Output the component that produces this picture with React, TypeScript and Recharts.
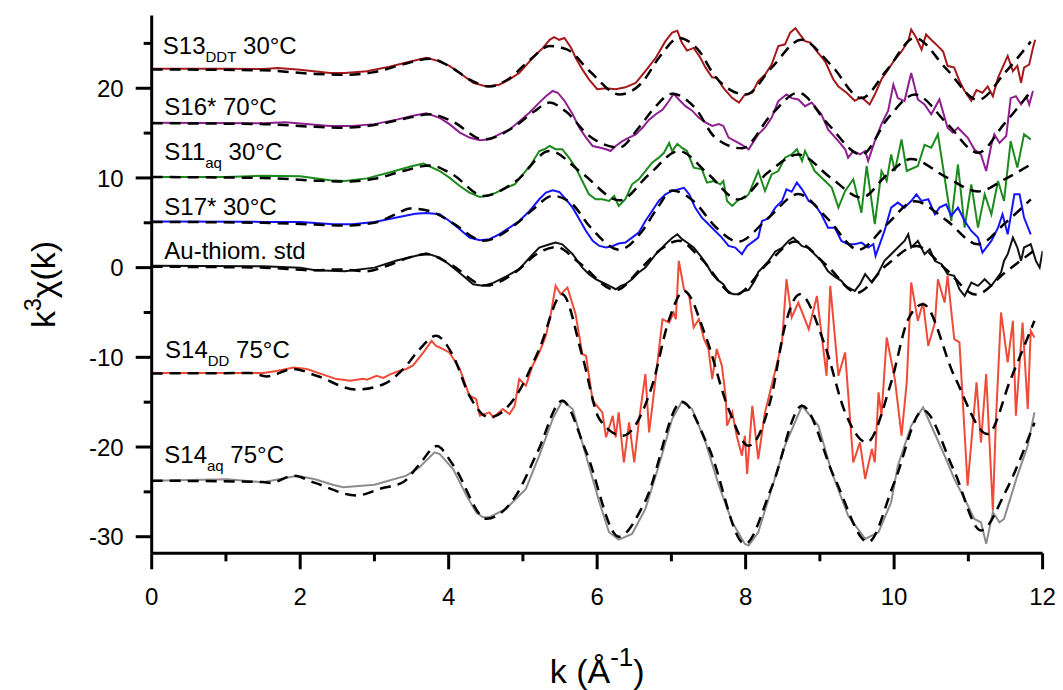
import { LineChart, Line, XAxis, YAxis, ReferenceDot, Label } from 'recharts'

const FONT = '"Liberation Sans", Arial, sans-serif'

// [k, k^3 chi(k)], each spectrum already offset
const s13Data = [
  [0, 22.17], [1.0, 22.17], [1.5, 22.15], [1.7, 22.25], [2.0, 22.05], [2.4, 21.7], [2.6, 21.7], [2.9, 21.9],
  [3.2, 22.4], [3.5, 23.0], [3.7, 23.4], [3.88, 23.0], [4.01, 22.5], [4.15, 21.7], [4.33, 20.6], [4.51, 20.2],
  [4.68, 20.4], [4.82, 21.0], [4.95, 21.7], [5.09, 23.0], [5.18, 23.8], [5.27, 24.5], [5.36, 25.4], [5.42, 25.7],
  [5.49, 25.4], [5.56, 25.6], [5.65, 24.5], [5.71, 23.4], [5.8, 22.1], [5.89, 21.0], [6.0, 19.9], [6.12, 20.0],
  [6.25, 19.9], [6.38, 20.1], [6.52, 20.6], [6.65, 21.9], [6.79, 23.4], [6.92, 25.25], [7.01, 26.2], [7.08, 26.4],
  [7.14, 25.1], [7.21, 24.2], [7.3, 24.5], [7.39, 23.4], [7.46, 22.3], [7.55, 21.2], [7.61, 21.2], [7.7, 20.05],
  [7.82, 18.9], [7.91, 18.4], [7.99, 19.3], [8.09, 19.5], [8.17, 20.8], [8.26, 21.5], [8.35, 22.65], [8.44, 24.7],
  [8.53, 24.9], [8.6, 26.2], [8.67, 26.7], [8.73, 26.0], [8.8, 25.25], [8.87, 25.1], [8.96, 24.1], [9.07, 23.0],
  [9.18, 21.0], [9.25, 20.2], [9.36, 19.5], [9.47, 18.6], [9.56, 19.0], [9.67, 18.2], [9.74, 19.3], [9.83, 21.0],
  [9.92, 22.1], [10.01, 23.2], [10.1, 24.1], [10.19, 25.25], [10.23, 26.55], [10.3, 25.6], [10.37, 24.3], [10.43, 26.0],
  [10.52, 25.25], [10.59, 24.7], [10.66, 24.1], [10.72, 22.5], [10.81, 22.3], [10.88, 20.8], [10.95, 19.7], [11.04, 18.6],
  [11.11, 19.8], [11.19, 19.5], [11.26, 20.2], [11.33, 19.1], [11.4, 21.2], [11.46, 22.3], [11.53, 23.6], [11.6, 21.9],
  [11.66, 22.5], [11.71, 20.6], [11.75, 22.3], [11.82, 22.65], [11.87, 24.5], [11.9, 25.4],
]
const s13Fit = [
  [0, 22.1], [1.5, 22.0], [2.2, 21.6], [2.6, 21.5], [3.0, 21.8], [3.4, 22.7], [3.75, 23.3], [4.0, 22.5],
  [4.3, 20.9], [4.55, 20.2], [4.8, 21.0], [5.1, 23.2], [5.36, 24.7], [5.6, 24.3], [5.9, 21.9], [6.3, 19.3],
  [6.6, 20.6], [6.85, 23.6], [7.1, 25.6], [7.35, 24.4], [7.6, 21.2], [8.0, 19.3], [8.35, 22.3], [8.75, 25.4],
  [9.15, 22.6], [9.56, 18.9], [9.9, 22.0], [10.28, 25.6], [10.7, 22.2], [11.13, 18.7], [11.5, 21.8], [11.84, 25.2],
]

const s16Data = [
  [0, 16.15], [1.5, 16.1], [1.8, 16.2], [2.4, 15.8], [2.7, 15.8], [3.0, 16.0], [3.3, 16.5], [3.55, 17.0],
  [3.7, 17.2], [3.88, 16.7], [4.01, 16.0], [4.15, 15.05], [4.28, 14.5], [4.42, 14.2], [4.55, 14.3], [4.68, 14.86],
  [4.82, 15.4], [4.95, 16.3], [5.09, 17.3], [5.22, 18.4], [5.31, 19.1], [5.4, 19.7], [5.47, 19.5], [5.56, 18.6],
  [5.67, 17.1], [5.76, 15.6], [5.85, 14.5], [5.94, 13.56], [6.03, 13.4], [6.12, 13.2], [6.18, 13.0], [6.25, 13.56],
  [6.34, 14.1], [6.43, 14.5], [6.52, 14.86], [6.61, 15.6], [6.7, 16.5], [6.79, 17.1], [6.88, 17.6], [6.97, 18.6],
  [7.03, 19.4], [7.1, 18.75], [7.19, 18.0], [7.28, 17.5], [7.37, 16.7], [7.46, 16.2], [7.55, 15.8], [7.64, 16.0],
  [7.7, 15.8], [7.77, 14.5], [7.86, 14.1], [7.95, 13.7], [8.04, 13.2], [8.17, 14.86], [8.26, 15.6], [8.35, 16.7],
  [8.44, 18.57], [8.55, 19.3], [8.62, 18.9], [8.71, 18.75], [8.8, 18.0], [8.89, 18.4], [9.02, 17.1], [9.11, 15.4],
  [9.25, 14.1], [9.34, 13.2], [9.38, 12.26], [9.45, 13.0], [9.54, 12.63], [9.61, 13.0], [9.65, 11.9], [9.74, 14.1],
  [9.83, 16.0], [9.92, 17.5], [9.99, 20.4], [10.05, 18.9], [10.14, 18.57], [10.23, 21.7], [10.32, 18.75], [10.41, 18.2],
  [10.5, 17.1], [10.61, 18.75], [10.72, 15.6], [10.79, 15.05], [10.86, 15.6], [10.99, 14.5], [11.08, 13.2], [11.17, 12.6],
  [11.24, 10.77], [11.31, 13.7], [11.35, 14.86], [11.42, 13.9], [11.51, 14.67], [11.57, 18.9], [11.64, 19.1], [11.71, 18.2],
  [11.78, 19.1], [11.82, 18.2], [11.87, 19.7],
]
const s16Fit = [
  [0, 16.1], [1.5, 16.0], [2.2, 15.7], [2.6, 15.6], [3.0, 15.9], [3.4, 16.6], [3.75, 17.1], [4.05, 16.3],
  [4.47, 14.3], [4.9, 15.8], [5.15, 17.4], [5.36, 18.4], [5.58, 17.4], [5.89, 14.7], [6.3, 13.4], [6.56, 15.6],
  [6.79, 18.0], [7.01, 19.4], [7.32, 17.8], [7.59, 14.5], [7.95, 13.3], [8.35, 17.1], [8.71, 19.5], [9.11, 16.0],
  [9.56, 12.6], [9.92, 16.7], [10.28, 19.3], [10.72, 16.0], [11.13, 12.8], [11.48, 16.0], [11.84, 19.6],
]

const s11Data = [
  [0, 10.1], [1.0, 10.1], [1.5, 10.25], [2.0, 10.2], [2.4, 9.75], [2.6, 9.65], [2.9, 9.95], [3.2, 10.6],
  [3.5, 11.3], [3.66, 11.6], [3.88, 10.77], [4.01, 10.03], [4.15, 9.1], [4.28, 8.36], [4.42, 7.88], [4.51, 8.0],
  [4.64, 8.36], [4.77, 8.92], [4.89, 9.29], [5.0, 10.4], [5.11, 11.5], [5.22, 13.0], [5.29, 13.2], [5.36, 13.56],
  [5.44, 13.2], [5.53, 13.2], [5.62, 12.26], [5.71, 11.15], [5.8, 9.66], [5.89, 8.18], [5.98, 7.62], [6.07, 7.62],
  [6.16, 7.43], [6.23, 8.0], [6.29, 6.88], [6.38, 7.62], [6.47, 9.29], [6.56, 9.85], [6.65, 10.77], [6.74, 11.7],
  [6.83, 12.26], [6.9, 12.8], [6.97, 13.9], [7.01, 13.0], [7.08, 13.8], [7.14, 13.37], [7.21, 13.0], [7.3, 11.15],
  [7.41, 10.96], [7.48, 9.48], [7.57, 9.66], [7.66, 9.29], [7.7, 9.66], [7.75, 7.43], [7.82, 6.88], [7.91, 7.62],
  [7.99, 7.8], [8.04, 8.18], [8.17, 10.77], [8.26, 8.55], [8.35, 10.4], [8.44, 10.77], [8.53, 12.26], [8.62, 12.63],
  [8.69, 13.2], [8.76, 11.9], [8.8, 13.0], [8.93, 10.77], [9.07, 9.66], [9.16, 8.92], [9.25, 6.69], [9.34, 8.55],
  [9.45, 9.85], [9.56, 6.13], [9.63, 11.33], [9.74, 4.84], [9.83, 10.77], [9.9, 9.66], [9.96, 12.63], [10.01, 10.77],
  [10.1, 14.3], [10.17, 10.77], [10.32, 11.33], [10.41, 13.7], [10.5, 13.37], [10.59, 14.86], [10.68, 10.03], [10.77, 5.2],
  [10.86, 11.5], [10.95, 4.46], [11.04, 9.29], [11.13, 4.46], [11.22, 8.18], [11.31, 5.95], [11.4, 9.66], [11.48, 7.43],
  [11.57, 14.1], [11.66, 11.15], [11.75, 14.86], [11.84, 14.3],
]
const s11Fit = [
  [0, 10.1], [1.5, 10.0], [2.2, 9.7], [2.6, 9.6], [3.0, 9.9], [3.4, 10.8], [3.75, 11.4], [4.05, 10.4],
  [4.47, 8.0], [4.9, 9.6], [5.36, 13.0], [5.8, 10.5], [6.3, 7.5], [6.7, 10.4], [7.1, 13.0], [7.5, 10.4],
  [7.9, 7.6], [8.3, 10.6], [8.71, 12.6], [9.15, 10.0], [9.56, 7.8], [9.9, 10.3], [10.23, 12.1], [10.7, 10.1],
  [11.13, 8.5], [11.5, 9.9], [11.84, 11.5],
]

const s17Data = [
  [0, 5.13], [1.5, 5.1], [2.0, 5.1], [2.45, 4.85], [2.7, 4.85], [3.0, 5.1], [3.3, 5.6], [3.55, 6.0],
  [3.7, 6.1], [3.88, 5.95], [4.01, 5.2], [4.15, 4.28], [4.28, 3.35], [4.42, 3.05], [4.55, 3.17], [4.68, 3.72],
  [4.82, 4.46], [4.95, 5.2], [5.09, 6.32], [5.22, 7.62], [5.31, 8.36], [5.4, 8.62], [5.49, 8.44], [5.58, 7.62],
  [5.67, 6.69], [5.76, 5.4], [5.85, 4.09], [5.94, 2.98], [6.03, 2.42], [6.12, 2.24], [6.21, 2.42], [6.29, 2.68],
  [6.38, 2.79], [6.47, 3.35], [6.56, 3.9], [6.65, 5.2], [6.74, 6.32], [6.83, 7.43], [6.92, 8.18], [7.01, 8.55],
  [7.1, 8.73], [7.17, 8.9], [7.24, 8.18], [7.32, 6.69], [7.41, 5.58], [7.5, 4.84], [7.59, 4.09], [7.68, 3.35],
  [7.77, 2.42], [7.86, 2.24], [7.95, 1.49], [8.02, 2.42], [8.1, 2.9], [8.17, 3.35], [8.22, 5.2], [8.31, 5.5],
  [8.4, 6.69], [8.49, 7.43], [8.55, 8.73], [8.62, 8.47], [8.69, 9.48], [8.76, 8.73], [8.85, 7.43], [8.93, 7.06],
  [9.02, 5.95], [9.11, 4.46], [9.2, 4.46], [9.29, 2.98], [9.38, 2.61], [9.47, 2.61], [9.56, 2.79], [9.65, 2.24],
  [9.72, 2.61], [9.75, 1.31], [9.87, 4.09], [9.96, 6.69], [10.05, 7.25], [10.14, 6.69], [10.23, 7.43], [10.3, 8.18],
  [10.37, 7.43], [10.46, 7.62], [10.55, 5.95], [10.61, 6.69], [10.7, 7.06], [10.77, 5.77], [10.86, 6.69], [10.95, 5.2],
  [11.04, 4.09], [11.13, 3.35], [11.19, 1.68], [11.31, 2.98], [11.4, 4.46], [11.46, 5.95], [11.53, 3.72], [11.62, 8.18],
  [11.69, 8.18], [11.75, 5.58], [11.84, 3.72],
]
const s17Fit = [
  [0, 5.1], [1.5, 5.0], [2.2, 4.8], [2.6, 4.7], [3.0, 5.0], [3.3, 6.0], [3.48, 6.6], [3.75, 6.3],
  [4.05, 5.0], [4.47, 3.0], [4.9, 4.8], [5.15, 6.6], [5.4, 8.0], [5.65, 7.2], [5.9, 4.6], [6.3, 2.0],
  [6.6, 4.0], [6.8, 6.5], [7.01, 8.6], [7.3, 7.4], [7.6, 4.5], [7.9, 2.9], [8.3, 5.5], [8.71, 8.2],
  [9.1, 5.5], [9.52, 2.0], [9.9, 4.8], [10.28, 7.4], [10.7, 5.3], [11.13, 2.6], [11.5, 5.0], [11.84, 7.6],
]

const auData = [
  [0, 0.2], [1.5, 0.15], [2.0, 0.0], [2.2, -0.3], [2.6, -0.4], [3.0, 0.0], [3.3, 0.8], [3.55, 1.3],
  [3.7, 1.6], [3.88, 1.12], [4.0, 0.4], [4.15, -0.6], [4.33, -1.85], [4.46, -2.03], [4.6, -1.7], [4.77, -1.0],
  [4.95, -0.18], [5.09, 1.12], [5.22, 2.24], [5.36, 2.6], [5.44, 2.8], [5.53, 2.6], [5.67, 1.5], [5.8, 0.0],
  [5.89, -0.73], [5.98, -1.29], [6.12, -1.85], [6.25, -2.41], [6.32, -2.03], [6.38, -1.85], [6.47, -1.29], [6.56, -0.55],
  [6.65, 0.0], [6.79, 1.5], [6.92, 2.6], [7.01, 3.3], [7.08, 3.72], [7.14, 3.2], [7.21, 2.8], [7.3, 2.24],
  [7.41, 1.12], [7.5, 0.0], [7.55, -0.73], [7.64, -1.48], [7.7, -1.85], [7.77, -2.78], [7.84, -2.96], [7.91, -2.96],
  [7.97, -2.6], [8.04, -2.5], [8.12, -1.5], [8.17, -0.5], [8.26, 0.3], [8.31, 0.75], [8.4, 1.8], [8.49, 2.2],
  [8.58, 3.0], [8.64, 3.35], [8.71, 2.8], [8.76, 2.4], [8.85, 2.2], [8.93, 1.5], [9.02, 0.75], [9.11, -0.4],
  [9.2, -1.0], [9.29, -1.47], [9.34, -2.03], [9.47, -2.6], [9.54, -1.85], [9.61, -0.73], [9.7, -1.66], [9.79, -0.55],
  [9.87, 0.75], [9.96, 1.5], [10.05, 2.24], [10.14, 2.98], [10.19, 3.72], [10.23, 2.24], [10.32, 2.98], [10.41, 1.5],
  [10.48, 2.05], [10.55, 0.75], [10.64, 0.38], [10.72, -0.73], [10.81, -0.92], [10.88, -2.41], [10.95, -3.15], [11.04, -1.66],
  [11.13, -2.03], [11.22, -1.29], [11.31, -2.03], [11.44, -0.55], [11.48, 0.75], [11.53, 1.5], [11.6, 3.35], [11.66, 2.24],
  [11.71, 0.75], [11.75, 2.24], [11.84, 2.61], [11.91, 0.75], [11.96, 0.0], [12.0, 1.87],
]
const auFit = [
  [0, 0.1], [1.5, 0.0], [2.2, -0.3], [2.5, -0.2], [2.9, -0.4], [3.2, 0.3], [3.5, 1.2], [3.7, 1.5],
  [4.0, 0.5], [4.5, -2.0], [4.9, -0.5], [5.2, 1.6], [5.45, 2.3], [5.75, 0.6], [6.25, -2.5], [6.6, 0.0],
  [6.85, 2.0], [7.1, 3.0], [7.4, 1.0], [7.86, -3.0], [8.3, 0.5], [8.67, 2.9], [9.1, 0.2], [9.5, -2.8],
  [9.9, 0.3], [10.3, 2.4], [10.7, -0.2], [11.1, -3.0], [11.5, -0.5], [11.9, 2.0],
]

const s14ddData = [
  [0, -11.76], [1.0, -11.76], [1.51, -11.76], [1.7, -11.5], [1.91, -11.13], [2.09, -11.3], [2.3, -11.9], [2.49, -12.43],
  [2.58, -12.5], [2.67, -12.61], [2.85, -12.4], [2.9, -12.5], [3.03, -12.06], [3.12, -12.3], [3.21, -11.9], [3.34, -11.5],
  [3.43, -11.3], [3.52, -10.9], [3.66, -9.46], [3.77, -8.16], [3.83, -8.72], [3.88, -8.9], [4.01, -9.46], [4.15, -11.3],
  [4.28, -14.28], [4.37, -14.65], [4.42, -16.51], [4.55, -16.14], [4.6, -16.7], [4.73, -15.77], [4.82, -16.33], [4.89, -15.4],
  [4.95, -12.43], [5.04, -13.17], [5.13, -10.94], [5.22, -9.46], [5.31, -7.6], [5.38, -5.0], [5.44, -2.03], [5.51, -2.96],
  [5.6, -2.22], [5.71, -5.19], [5.8, -9.64], [5.85, -9.83], [5.94, -14.84], [6.07, -16.14], [6.12, -18.92], [6.21, -16.51],
  [6.25, -18.92], [6.29, -16.14], [6.36, -21.71], [6.43, -17.25], [6.5, -21.71], [6.56, -17.25], [6.65, -11.87], [6.7, -18.37],
  [6.76, -14.28], [6.88, -5.75], [6.97, -6.12], [7.03, -5.0], [7.06, -5.75], [7.1, 0.75], [7.17, -2.41], [7.24, -3.15],
  [7.3, -6.67], [7.37, -5.75], [7.44, -7.97], [7.5, -9.09], [7.55, -12.43], [7.61, -9.09], [7.68, -10.94], [7.73, -14.28],
  [7.75, -17.63], [7.82, -16.14], [7.88, -18.74], [7.95, -20.96], [7.99, -18.74], [8.02, -23.01], [8.09, -15.4], [8.17, -21.34],
  [8.26, -16.14], [8.35, -13.17], [8.49, -8.34], [8.55, -1.29], [8.62, -5.56], [8.71, -3.89], [8.85, -6.86], [8.96, -3.15],
  [9.09, -12.06], [9.14, -2.03], [9.25, -12.06], [9.34, -9.46], [9.45, -21.71], [9.54, -19.48], [9.61, -23.56], [9.7, -20.22],
  [9.74, -21.71], [9.79, -13.91], [9.83, -16.51], [9.9, -7.79], [10.01, -12.43], [10.1, -18.74], [10.17, -12.8], [10.23, -1.66],
  [10.32, -5.93], [10.39, -3.89], [10.46, -8.72], [10.55, -6.12], [10.59, -1.29], [10.68, -3.89], [10.72, -0.92], [10.81, -7.97],
  [10.88, -8.34], [10.99, -24.3], [11.11, -12.8], [11.17, -19.48], [11.24, -11.87], [11.33, -27.09], [11.37, -17.25], [11.44, -5.0],
  [11.53, -10.57], [11.6, -5.93], [11.64, -16.51], [11.73, -6.12], [11.8, -15.77], [11.84, -7.05], [11.89, -7.79],
]
const s14ddFit = [
  [0, -11.8], [1.33, -11.76], [1.55, -12.13], [1.91, -11.3], [2.22, -12.06], [2.76, -13.6], [3.12, -13.0], [3.39, -11.3],
  [3.61, -9.09], [3.83, -7.6], [4.06, -9.83], [4.28, -14.28], [4.55, -16.7], [4.91, -14.28], [5.22, -9.09], [5.53, -2.96],
  [5.8, -9.83], [6.03, -16.88], [6.34, -18.74], [6.74, -13.17], [6.97, -5.75], [7.17, -2.59], [7.46, -7.6], [7.77, -15.77],
  [8.04, -19.85], [8.35, -14.28], [8.53, -6.49], [8.73, -2.96], [9.07, -8.72], [9.34, -16.14], [9.63, -19.48], [9.96, -12.8],
  [10.19, -5.75], [10.39, -4.08], [10.81, -12.06], [11.26, -18.55], [11.57, -12.43], [11.89, -5.93],
]

const s14aqData = [
  [0, -23.75], [1.02, -23.6], [1.5, -23.93], [1.96, -23.2], [2.2, -23.6], [2.45, -24.23], [2.58, -24.49], [3.0, -24.2],
  [3.12, -23.93], [3.43, -23.19], [3.6, -22.3], [3.81, -20.6], [3.88, -20.78], [4.06, -22.45], [4.24, -25.42], [4.37, -27.28],
  [4.46, -27.83], [4.55, -27.83], [4.77, -26.9], [5.04, -24.68], [5.22, -20.96], [5.4, -16.88], [5.53, -14.84], [5.67, -15.77],
  [5.85, -20.96], [6.03, -26.16], [6.16, -29.5], [6.29, -30.32], [6.47, -29.69], [6.65, -26.9], [6.83, -22.08], [7.01, -16.88],
  [7.14, -14.95], [7.28, -15.77], [7.46, -19.48], [7.64, -24.3], [7.82, -28.39], [7.99, -30.8], [8.04, -30.99], [8.17, -29.5],
  [8.35, -24.68], [8.53, -19.85], [8.76, -15.4], [8.98, -17.63], [9.16, -22.82], [9.38, -27.65], [9.61, -30.25], [9.79, -29.5],
  [9.96, -26.16], [10.05, -22.08], [10.23, -17.63], [10.39, -15.58], [10.5, -17.63], [10.68, -20.96], [10.81, -23.56], [10.95, -25.79],
  [11.08, -28.02], [11.17, -28.39], [11.24, -30.8], [11.33, -27.28], [11.42, -28.39], [11.48, -28.02], [11.66, -23.19], [11.8, -19.85],
  [11.89, -16.14],
]
const s14aqFit = [
  [0, -23.75], [1.5, -23.9], [1.6, -24.0], [1.91, -23.2], [2.2, -24.0], [2.76, -25.4], [3.1, -24.6], [3.39, -23.9],
  [3.6, -22.0], [3.84, -19.9], [4.06, -22.0], [4.51, -28.0], [4.9, -25.5], [5.2, -20.5], [5.53, -14.84], [5.85, -20.5],
  [6.29, -30.0], [6.65, -26.0], [7.14, -14.95], [7.5, -20.0], [7.99, -30.8], [8.35, -24.5], [8.76, -15.4], [9.2, -23.5],
  [9.65, -30.6], [10.0, -24.0], [10.39, -15.9], [10.8, -22.5], [11.17, -29.3], [11.5, -25.0], [11.89, -17.3],
]

const xTicks = [0, 1, 2, 3, 4, 5, 6, 7, 8, 9, 10, 11, 12]
const yTicks = [-30, -25, -20, -15, -10, -5, 0, 5, 10, 15, 20, 25]

// name, subscript, rest, anchor k, anchor value (text baseline)
const curveLabels = [
  { main: 'S13', sub: 'DDT', rest: ' 30°C', k: 0.15, v: 23.83 },
  { main: 'S16* 70°C', sub: '', rest: '', k: 0.17, v: 17.03 },
  { main: 'S11', sub: 'aq', rest: ' 30°C', k: 0.17, v: 11.95 },
  { main: 'S17* 30°C', sub: '', rest: '', k: 0.17, v: 5.88 },
  { main: 'Au-thiom. std', sub: '', rest: '', k: 0.17, v: 0.94 },
  { main: 'S14', sub: 'DD', rest: ' 75°C', k: 0.18, v: -10.07 },
  { main: 'S14', sub: 'aq', rest: ' 75°C', k: 0.17, v: -21.78 },
]

const series = [
  { id: 's13', data: s13Data, fit: s13Fit, color: '#A3191C' },
  { id: 's16', data: s16Data, fit: s16Fit, color: '#8E1F8E' },
  { id: 's11', data: s11Data, fit: s11Fit, color: '#1C8A1C' },
  { id: 's17', data: s17Data, fit: s17Fit, color: '#1414FF' },
  { id: 'au', data: auData, fit: auFit, color: '#111111' },
  { id: 's14dd', data: s14ddData, fit: s14ddFit, color: '#F04A38' },
  { id: 's14aq', data: s14aqData, fit: s14aqFit, color: '#8C8C8C' },
]

const toRows = (pts: number[][]) => pts.map(([k, v]) => ({ k, v }))

function XTick(props: any) {
  const { x, y, payload } = props
  const major = payload.value % 2 === 0
  return (
    <g>
      <line x1={x} x2={x} y1={y} y2={y + (major ? 16 : 8)} stroke="#000" strokeWidth={3} />
      {major && (
        <text x={x} y={y + 52} textAnchor="middle" fontSize={24} fontFamily={FONT} fill="#000">
          {payload.value}
        </text>
      )}
    </g>
  )
}

function YTick(props: any) {
  const { x, y, payload } = props
  const major = payload.value % 10 === 0
  return (
    <g>
      <line x1={x} x2={x - (major ? 16 : 8)} y1={y} y2={y} stroke="#000" strokeWidth={3} />
      {major && (
        <text x={x - 28} y={y + 8.6} textAnchor="end" fontSize={24} fontFamily={FONT} fill="#000">
          {payload.value}
        </text>
      )}
    </g>
  )
}

function XTitle(props: any) {
  const vb = props.viewBox
  return (
    <text x={vb.x + vb.width / 2} y={vb.y + 130} textAnchor="middle" fontSize={34} fontFamily={FONT} fill="#000">
      <tspan>k (Å</tspan>
      <tspan dy={-17} fontSize={26}>-1</tspan>
      <tspan dy={17}>)</tspan>
    </text>
  )
}

function YTitle(props: any) {
  const vb = props.viewBox
  const cx = 55
  const cy = vb.y + vb.height / 2
  return (
    <text x={cx} y={cy} transform={`rotate(-90, ${cx}, ${cy})`} textAnchor="middle" fontSize={34} fontFamily={FONT} fill="#000">
      <tspan>k</tspan>
      <tspan dy={-14} fontSize={23}>3</tspan>
      <tspan dy={14}>χ(k)</tspan>
    </text>
  )
}

function curveLabel(lbl: any) {
  return (props: any) => {
    const vb = props.viewBox
    return (
      <text x={vb.x} y={vb.y} fontSize={24} fontFamily={FONT} fill="#000">
        <tspan>{lbl.main}</tspan>
        {lbl.sub && <tspan dy={8} fontSize={15}>{lbl.sub}</tspan>}
        {lbl.rest && <tspan dy={lbl.sub ? -8 : 0}>{lbl.rest}</tspan>}
      </text>
    )
  }
}

export default function App() {
  return (
    <div style={{ position: 'absolute', left: 0, top: 0, width: 1063, height: 690, background: '#fff' }}>
      <LineChart width={1063} height={690} margin={{ top: 15.6, right: 20.4, bottom: 36.7, left: 51.7 }}>
        <XAxis
          type="number"
          dataKey="k"
          domain={[0, 12]}
          ticks={xTicks}
          interval={0}
          allowDataOverflow
          height={100}
          tickSize={0}
          tickMargin={0}
          tick={<XTick />}
          axisLine={{ stroke: '#000', strokeWidth: 3 }}
        >
          <Label content={<XTitle />} />
        </XAxis>
        <YAxis
          type="number"
          domain={[-31.85, 28.1]}
          ticks={yTicks}
          interval={0}
          allowDataOverflow
          width={100}
          tickSize={0}
          tickMargin={0}
          tick={<YTick />}
          axisLine={{ stroke: '#000', strokeWidth: 3 }}
        >
          <Label content={<YTitle />} />
        </YAxis>
        {series.map((s) => (
          <Line
            key={s.id}
            data={toRows(s.data)}
            dataKey="v"
            type="linear"
            stroke={s.color}
            strokeWidth={2}
            dot={false}
            activeDot={false}
            isAnimationActive={false}
          />
        ))}
        {series.map((s) => (
          <Line
            key={s.id + '-fit'}
            data={toRows(s.fit)}
            dataKey="v"
            type="monotone"
            stroke="#000"
            strokeWidth={2.5}
            strokeDasharray="11 7"
            dot={false}
            activeDot={false}
            isAnimationActive={false}
          />
        ))}
        {curveLabels.map((l, i) => (
          <ReferenceDot
            key={'lbl' + i}
            x={l.k}
            y={l.v}
            r={0}
            fill="none"
            stroke="none"
            label={{ content: curveLabel(l) }}
          />
        ))}
      </LineChart>
    </div>
  )
}
